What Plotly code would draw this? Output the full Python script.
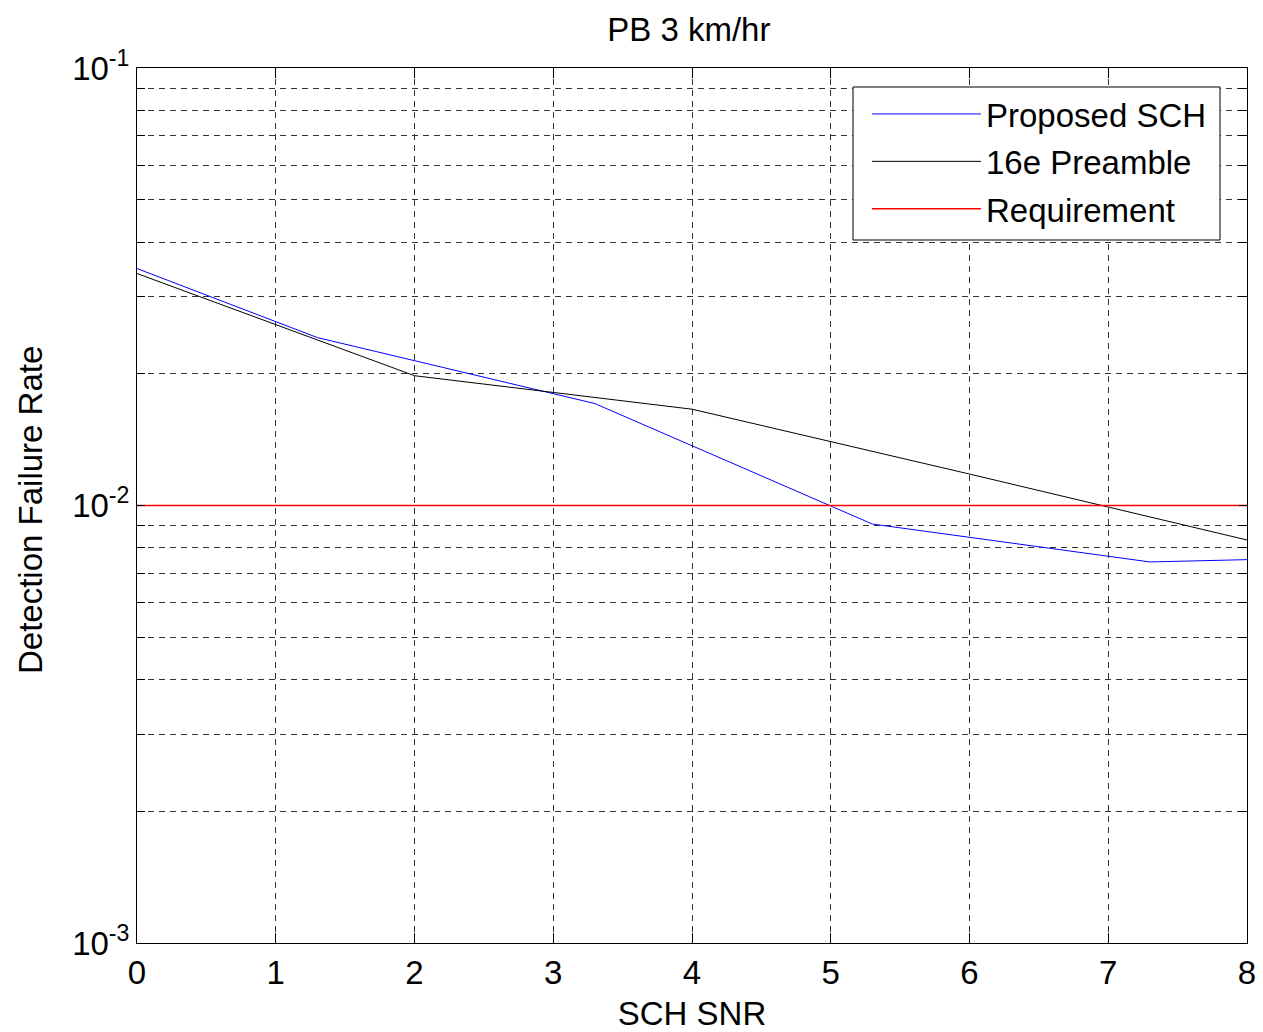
import plotly.graph_objects as go

# Data
snr_proposed = [0, 1.3, 3.3, 5.3, 7.3, 8]
rate_proposed = [0.0348, 0.0242, 0.0171, 0.00907, 0.00743, 0.00752]

snr_16e = [0, 2, 4, 6, 8]
rate_16e = [0.0339, 0.0198, 0.0166, 0.0118, 0.00834]

snr_req = [0, 8]
rate_req = [0.01, 0.01]

decades = [1e-3, 1e-2, 1e-1]
decade_labels = ["10<sup>-3</sup>", "10<sup>-2</sup>", "10<sup>-1</sup>"]
x_ticks = [0, 1, 2, 3, 4, 5, 6, 7, 8]

# log tick positions (all mantissas) for grid
ytickvals, yticktext = [], []
for d, lab in zip(decades[:-1], decade_labels[:-1]):
    for m in range(1, 10):
        ytickvals.append(d * m)
        yticktext.append(lab if m == 1 else "")
ytickvals.append(decades[-1])
yticktext.append(decade_labels[-1])

fig = go.Figure()
fig.add_trace(go.Scatter(x=snr_proposed, y=rate_proposed, mode="lines",
                         name="Proposed SCH", legendgroup="a",
                         line=dict(color="#0000FF", width=1)))
fig.add_trace(go.Scatter(x=snr_16e, y=rate_16e, mode="lines",
                         name="16e Preamble", legendgroup="b",
                         line=dict(color="#000000", width=1)))
fig.add_trace(go.Scatter(x=snr_req, y=rate_req, mode="lines",
                         name="Requirement", legendgroup="c",
                         line=dict(color="#FF0000", width=1.3)))

font_family = "Liberation Sans, Arial, sans-serif"
FS = 33
L, T, PW, PH = 137, 68, 1110, 875


def px_x(p):
    return (p - L) / PW


def px_y(p):
    return (T + PH - p) / PH


fig.update_layout(
    width=1263, height=1032,
    margin=dict(l=L, r=1263 - L - PW, t=T, b=1032 - T - PH, autoexpand=False),
    paper_bgcolor="white", plot_bgcolor="white",
    font=dict(family=font_family, size=FS, color="black"),
    title=dict(text="PB 3 km/hr", x=0.5454, xanchor="center", y=0.971, yanchor="middle",
               font=dict(size=FS, color="black")),
    showlegend=True,
    legend=dict(x=px_x(867), xanchor="left", y=px_y(86), yanchor="top",
                borderwidth=0, bgcolor="rgba(0,0,0,0)",
                font=dict(size=FS), itemwidth=109, tracegroupgap=1.5),
    shapes=[dict(type="rect", xref="paper", yref="paper",
                 x0=px_x(853), x1=px_x(1220), y0=px_y(240), y1=px_y(87),
                 line=dict(color="black", width=1), fillcolor="white", layer="above")],
    annotations=[dict(text="Detection Failure Rate", xref="paper", yref="paper",
                      x=px_x(30), y=px_y(510), xanchor="center", yanchor="middle",
                      textangle=-90, showarrow=False, font=dict(size=FS))],
)
fig.update_xaxes(
    range=[0, 8], tickvals=x_ticks, ticktext=[str(v) for v in x_ticks],
    title=dict(text="SCH SNR", standoff=12, font=dict(size=FS)),
    automargin=False,
    showline=True, linecolor="black", linewidth=1, mirror="ticks",
    ticks="inside", ticklen=10, tickcolor="black",
    showgrid=True, gridcolor="#333333", griddash="6px,5px", gridwidth=1,
    zeroline=False, tickfont=dict(size=FS),
)
fig.update_yaxes(
    type="log", range=[-3, -1], tickvals=ytickvals, ticktext=yticktext,
    automargin=False,
    showline=True, linecolor="black", linewidth=1, mirror="ticks",
    ticks="inside", ticklen=8, tickcolor="black",
    showgrid=True, gridcolor="#333333", griddash="6px,5px", gridwidth=1,
    zeroline=False, tickfont=dict(size=FS),
)

fig.write_html("out.html", config={"displayModeBar": False},
               post_script="document.body.style.margin='0';")
